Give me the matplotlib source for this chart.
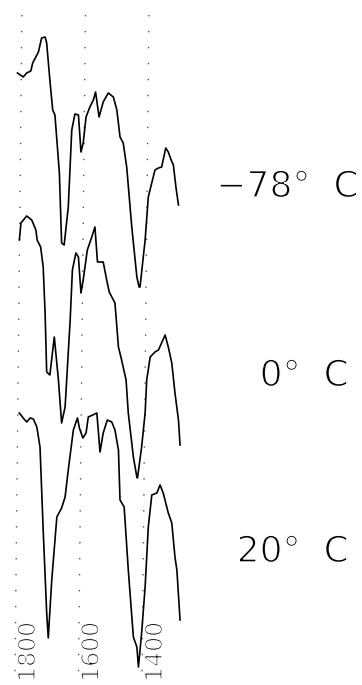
# ir_spektren.py
# IR-Spektren bei drei Temperaturen, gestapelt

import matplotlib.pyplot as plt
import matplotlib.patheffects as pe

# Wellenzahlen (cm^-1) und relative Transmission (willkuerliche Einheiten)
w_m78 = [1808, 1790, 1779, 1766, 1760, 1742, 1732, 1721, 1716, 1706, 1697, 1690,
         1676, 1669, 1661, 1648, 1637, 1627, 1616, 1608, 1601, 1592, 1580, 1569,
         1562, 1551, 1538, 1522, 1506, 1495, 1485, 1475, 1464, 1448, 1432, 1425,
         1422, 1406, 1396, 1375, 1364, 1354, 1341, 1333, 1324, 1317, 1309, 1301]
t_m78 = [227, 223, 227, 229, 237, 248, 262, 263, 257, 220, 190, 185,
         127, 57, 55, 93, 170, 186, 185, 148, 157, 183, 193, 200,
         208, 183, 198, 207, 203, 190, 163, 157, 133, 73, 23, 13,
         13, 60, 103, 130, 132, 133, 152, 148, 140, 135, 113, 95]

w_0 = [1802, 1797, 1779, 1763, 1750, 1746, 1735, 1727, 1721, 1716, 1706, 1692,
       1679, 1669, 1658, 1642, 1635, 1624, 1616, 1608, 1601, 1588, 1574, 1564,
       1556, 1538, 1527, 1519, 1501, 1490, 1480, 1466, 1459, 1443, 1432, 1430,
       1417, 1406, 1401, 1390, 1375, 1364, 1343, 1333, 1322, 1312, 1301, 1296]
t_0 = [240, 257, 264, 260, 250, 240, 233, 213, 167, 108, 105, 143,
       100, 57, 73, 160, 210, 227, 223, 187, 200, 230, 243, 253,
       218, 218, 200, 188, 177, 133, 120, 100, 67, 23, 3, 2,
       33, 67, 100, 123, 128, 130, 145, 133, 117, 87, 60, 35]

w_20 = [1802, 1790, 1779, 1768, 1758, 1747, 1737, 1727, 1716, 1711, 1700, 1684,
        1669, 1658, 1648, 1632, 1619, 1613, 1602, 1592, 1585, 1571, 1558, 1548,
        1538, 1525, 1511, 1501, 1490, 1485, 1472, 1459, 1443, 1432, 1427, 1417,
        1406, 1396, 1385, 1369, 1359, 1349, 1333, 1322, 1312, 1306, 1296]
t_20 = [257, 252, 248, 252, 251, 243, 223, 140, 57, 32, 90, 153,
        162, 173, 200, 240, 252, 242, 232, 237, 253, 255, 257, 218,
        237, 250, 248, 240, 220, 170, 163, 100, 33, 23, 3, 37,
        83, 143, 175, 177, 185, 177, 157, 147, 113, 100, 50]

spektren = [(w_m78, t_m78), (w_0, t_0), (w_20, t_20)]
versatz = [385, 205, 15]          # vertikale Verschiebung der Spuren
temperaturen = ['\u221278°  C', '0°  C', '20°  C']
ticks = [1800, 1600, 1400]

fig = plt.figure(figsize=(3.62, 6.85), dpi=100)
ax = fig.add_axes([0, 0, 1, 1])
ax.set_xlim(1863, 723)
ax.set_ylim(0, 685)
ax.axis('off')

# gepunktete Hilfslinien (leicht schraeg wie im Original)
for w in ticks:
    ax.plot([w - 6, w + 16], [670, 5], color='#555555', lw=1.0,
            linestyle=(0, (1, 10.5)))

# Spektren
for (w, t), v in zip(spektren, versatz):
    ax.plot(w, [v + y for y in t], color='black', lw=1.2)

duenn = [pe.Normal(), pe.Stroke(linewidth=1.0, foreground='white')]

# Achsenbeschriftung (gedreht)
for w in ticks:
    ax.text(w - 25, 33, str(w), rotation=90, ha='center', va='center',
            family='DejaVu Sans', fontsize=17, path_effects=duenn)

# Temperaturangaben rechts (rechtsbuendig)
lab_x = [359, 349, 349]
lab_y = [498, 309, 133]
for txt, x, y in zip(temperaturen, lab_x, lab_y):
    fig.text(x / 362, y / 685, txt, ha='right', va='center',
             family='DejaVu Sans', fontsize=26, path_effects=duenn)

plt.savefig('out.png')
